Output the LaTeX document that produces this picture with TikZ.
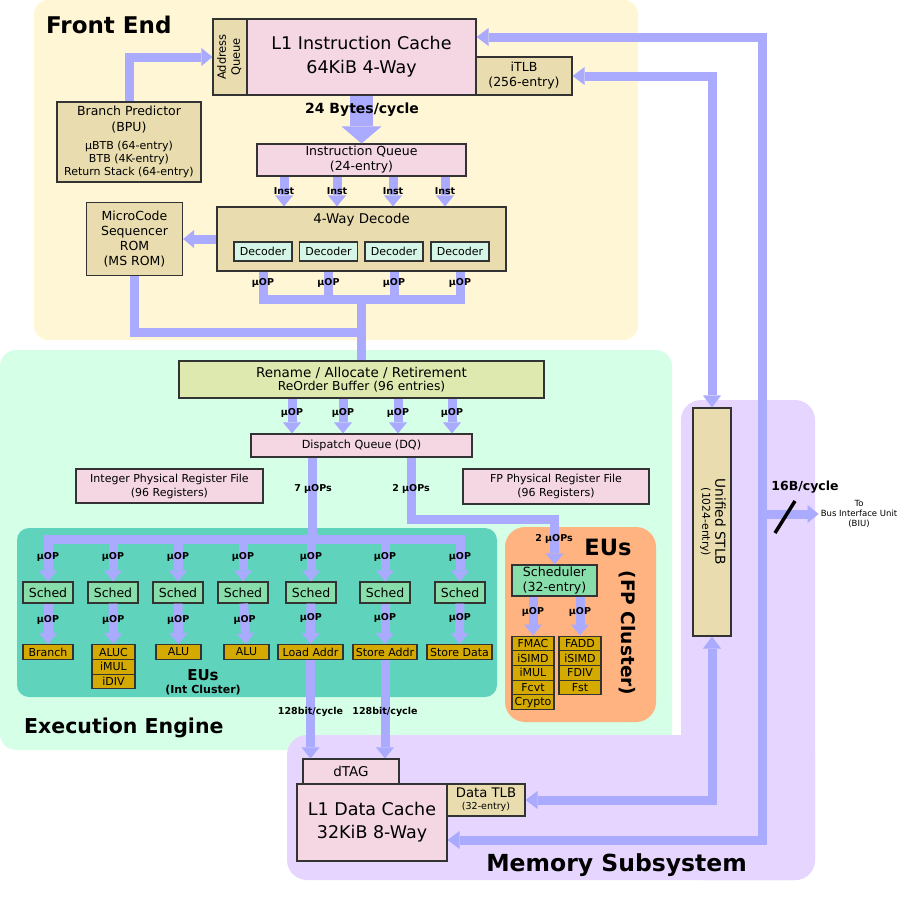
\documentclass[tikz,border=0pt]{standalone}
\usepackage{fontspec}
\setmainfont{DejaVu Sans}
\usepackage{graphicx}
\usetikzlibrary{arrows.meta}

\definecolor{frontbg}{HTML}{FFF6D5}
\definecolor{execbg}{HTML}{D5FFE6}
\definecolor{membg}{HTML}{E5D5FF}
\definecolor{tanbg}{HTML}{E9DDAF}
\definecolor{pinkbg}{HTML}{F4D7E3}
\definecolor{robbg}{HTML}{DDE9AF}
\definecolor{intbg}{HTML}{5FD3BC}
\definecolor{schedbg}{HTML}{87DEAA}
\definecolor{eubg}{HTML}{D4AA00}
\definecolor{fpbg}{HTML}{FFB380}
\definecolor{decbg}{HTML}{D5F6E6}
\definecolor{flow}{HTML}{AAAAFF}

\newcommand{\fsz}[2]{\fontsize{#1pt}{#2pt}\selectfont}

\tikzset{
  box/.style={draw=black!80, line width=1.1pt, inner sep=0pt, align=center, font=\fsz{12.5}{15}},
  tanbox/.style={box, fill=tanbg},
  pinkbox/.style={box, fill=pinkbg},
  decoder/.style={box, fill=decbg, minimum width=58pt, minimum height=19pt, font=\fsz{11}{13}},
  sched/.style={box, fill=schedbg, minimum width=50pt, minimum height=21pt},
  eu/.style={box, fill=eubg, minimum height=14.7pt, font=\fsz{11}{13}},
  bus/.style={color=flow, line width=9pt},
  busarrow/.style={bus, -{Triangle[width=18pt, length=11pt, line width=0pt]}},
  busboth/.style={bus, {Triangle[width=18pt, length=12pt, line width=0pt]}-{Triangle[width=18pt, length=12pt, line width=0pt]}},
  lbl/.style={text=black, inner sep=0pt, font=\bfseries\fsz{9.5}{11}},
  regiontitle/.style={inner sep=0pt, font=\bfseries\fsz{23}{27}},
}

\begin{document}
\begin{tikzpicture}[x=1pt, y=-1pt]
  \useasboundingbox (0,0) rectangle (900,900);

  % regions
  \fill[frontbg, rounded corners=14pt] (34,0) rectangle (638,340);
  \fill[execbg, rounded corners=16pt] (0,350) rectangle (672,750);
  \fill[membg, rounded corners=20pt] (681,400) rectangle (815,880);
  \fill[membg, rounded corners=20pt] (287,735) rectangle (815,880);
  \fill[intbg, rounded corners=12pt] (17,528) rectangle (497,697);
  \fill[fpbg, rounded corners=20pt] (505,527) rectangle (656,722);

  % front end
  \node[regiontitle, anchor=base west] (fetitle) at (46,33) {Front End};
  \node[tanbox, minimum width=34pt, minimum height=76pt, font=\fsz{11.5}{14}] (aq) at (230,57)
    {\rotatebox{90}{\begin{tabular}{@{}c@{}}Address\\Queue\end{tabular}}};
  \node[pinkbox, minimum width=229pt, minimum height=76pt, font=\fsz{17.5}{24}] (l1i) at (361.5,57)
    {L1 Instruction Cache\\64KiB 4-Way};
  \node[tanbox, minimum width=96pt, minimum height=38pt] (itlb) at (524,76) {iTLB\\(256-entry)};
  \node[tanbox, minimum width=144pt, minimum height=80pt, font=\fsz{11}{13}] (bpu) at (129,142)
    {{\fsz{12.5}{13}Branch Predictor}\\[3pt]{\fsz{12.5}{13}(BPU)}\\[5pt]μBTB (64-entry)\\BTB (4K-entry)\\Return Stack (64-entry)};
  \node[pinkbox, minimum width=209pt, minimum height=32pt] (iq) at (361.5,160) {Instruction Queue\\(24-entry)};
  \node[tanbox, minimum width=289pt, minimum height=64pt,
        label={[inner sep=0pt, font=\fsz{13.4}{15}, anchor=north, yshift=-7pt]north:4-Way Decode}] (dec) at (361.5,239) {};
  \node[decoder] (d1) at (263,251.5) {Decoder};
  \node[decoder] (d2) at (328.5,251.5) {Decoder};
  \node[decoder] (d3) at (394,251.5) {Decoder};
  \node[decoder] (d4) at (460,251.5) {Decoder};
  \node[tanbox, minimum width=96pt, minimum height=73pt] (msrom) at (134.5,239) {MicroCode\\Sequencer\\ROM\\(MS ROM)};

  % execution engine
  \node[regiontitle, font=\bfseries\fsz{20.5}{24}, anchor=base west] (eetitle) at (24,733) {Execution Engine};
  \node[box, fill=robbg, minimum width=365pt, minimum height=37pt, font=\fsz{12.3}{13}] (rob) at (361.5,379.5)
    {{\fsz{13.5}{13}Rename / Allocate / Retirement}\\ReOrder Buffer (96 entries)};
  \node[pinkbox, minimum width=221pt, minimum height=23pt, font=\fsz{11.2}{13}] (dq) at (361.5,445.5) {Dispatch Queue (DQ)};
  \node[pinkbox, minimum width=187pt, minimum height=34pt, font=\fsz{11}{14}] (iprf) at (169.5,486) {Integer Physical Register File\\(96 Registers)};
  \node[pinkbox, minimum width=186pt, minimum height=35pt, font=\fsz{11}{14}] (fprf) at (556,486.5) {FP Physical Register File\\(96 Registers)};

  \node[sched] (s1) at (48,592.5) {Sched};
  \node[sched] (s2) at (113,592.5) {Sched};
  \node[sched] (s3) at (178,592.5) {Sched};
  \node[sched] (s4) at (243,592.5) {Sched};
  \node[sched] (s5) at (311,592.5) {Sched};
  \node[sched] (s6) at (385,592.5) {Sched};
  \node[sched] (s7) at (460,592.5) {Sched};

  \node[eu, minimum width=50pt] (branch) at (48,652) {Branch};
  \node[eu, minimum width=43pt] (aluc) at (113.5,652) {ALUC};
  \node[eu, minimum width=43pt] (imul) at (113.5,666.7) {iMUL};
  \node[eu, minimum width=43pt] (idiv) at (113.5,681.4) {iDIV};
  \node[eu, minimum width=45pt] (alu1) at (178.5,652) {ALU};
  \node[eu, minimum width=45pt] (alu2) at (246.5,652) {ALU};
  \node[eu, minimum width=65pt] (load) at (310.5,652) {Load Addr};
  \node[eu, minimum width=64pt] (staddr) at (385,652) {Store Addr};
  \node[eu, minimum width=65pt] (stdata) at (459.5,652) {Store Data};
  \node[font=\bfseries\fsz{15}{17}, inner sep=0pt] (euint) at (203,675) {EUs};
  \node[font=\bfseries\fsz{11}{13}, inner sep=0pt] (euintsub) at (203,690) {(Int Cluster)};

  \node[box, fill=schedbg, minimum width=85pt, minimum height=31pt, font=\fsz{12.6}{14.5}] (fpsched) at (554.5,580.5) {Scheduler\\(32-entry)};
  \node[eu, minimum width=42pt] (fmac) at (533,643.4) {FMAC};
  \node[eu, minimum width=42pt] (isimda) at (533,658.1) {iSIMD};
  \node[eu, minimum width=42pt] (fimul) at (533,672.8) {iMUL};
  \node[eu, minimum width=42pt] (fcvt) at (533,687.5) {Fcvt};
  \node[eu, minimum width=42pt] (crypto) at (533,702.2) {Crypto};
  \node[eu, minimum width=42pt] (fadd) at (580,643.4) {FADD};
  \node[eu, minimum width=42pt] (isimdb) at (580,658.1) {iSIMD};
  \node[eu, minimum width=42pt] (fdiv) at (580,672.8) {FDIV};
  \node[eu, minimum width=42pt] (fst) at (580,687.5) {Fst};
  \node[font=\bfseries\fsz{22.5}{25}, inner sep=0pt] (eufp) at (608,547) {EUs};
  \node[font=\bfseries\fsz{18.6}{21}, inner sep=0pt, rotate=-90] (eufpsub) at (627,633) {(FP Cluster)};

  % memory subsystem
  \node[regiontitle, font=\bfseries\fsz{23.5}{27}, anchor=base east] (mstitle) at (747,871) {Memory Subsystem};
  \node[tanbox, minimum width=38pt, minimum height=228pt, font=\fsz{12}{13}] (stlb) at (712,522)
    {\rotatebox{-90}{\begin{tabular}{@{}c@{}}{\fsz{13.7}{13}Unified STLB}\\{\fsz{10.8}{13}(1024-entry)}\end{tabular}}};
  \node[pinkbox, minimum width=96pt, minimum height=25pt, font=\fsz{13.5}{15}] (dtag) at (351,771.5) {dTAG};
  \node[pinkbox, minimum width=150pt, minimum height=77pt, font=\fsz{17.5}{23}] (l1d) at (372,822.5) {L1 Data Cache\\32KiB 8-Way};
  \node[tanbox, minimum width=78pt, minimum height=32pt, font=\fsz{9.5}{12}] (dtlb) at (486,800) {{\fsz{13.2}{12}Data TLB}\\(32-entry)};
  \node[inner sep=2pt, align=center, font=\fsz{8.5}{10}] (biu) at (859,514) {To\\Bus Interface Unit\\(BIU)};

  % front end buses
  \draw[busarrow] (bpu.north) |- (aq.west);
  \draw[flow, line width=23pt, -{Triangle[width=40pt, length=17pt, line width=0pt]}] (l1i.south) -- (iq.north);
  \path[busarrow]
    (iq.south -| 284,0) edge node[lbl]{Inst} (dec.north -| 284,0)
    (iq.south -| 337,0) edge node[lbl]{Inst} (dec.north -| 337,0)
    (iq.south -| 393,0) edge node[lbl]{Inst} (dec.north -| 393,0)
    (iq.south -| 445,0) edge node[lbl]{Inst} (dec.north -| 445,0);
  \draw[busarrow] (dec.west) -- (msrom.east);

  \coordinate (decbar) at (361.5,299);
  \coordinate (msbar) at (361.5,332);
  \draw[bus, line cap=rect] (d1 |- decbar) -- (d4 |- decbar);
  \draw[bus] (decbar) -- (rob.north);
  \draw[bus] (msrom.south) |- (msbar);
  \path[bus]
    (dec.south -| d1) edge node[lbl, pos=.42]{μOP} (d1 |- decbar)
    (dec.south -| d2) edge node[lbl, pos=.42]{μOP} (d2 |- decbar)
    (dec.south -| d3) edge node[lbl, pos=.42]{μOP} (d3 |- decbar)
    (dec.south -| d4) edge node[lbl, pos=.42]{μOP} (d4 |- decbar);

  % execution engine buses
  \path[busarrow]
    (rob.south -| 292,0) edge node[lbl, pos=.42]{μOP} (dq.north -| 292,0)
    (rob.south -| 343,0) edge node[lbl, pos=.42]{μOP} (dq.north -| 343,0)
    (rob.south -| 398,0) edge node[lbl, pos=.42]{μOP} (dq.north -| 398,0)
    (rob.south -| 452,0) edge node[lbl, pos=.42]{μOP} (dq.north -| 452,0);

  \coordinate (intbar) at (312,539);
  \coordinate (fpturn) at (554.5,519);
  \draw[bus] (dq.south -| intbar) -- (intbar);
  \draw[bus, line cap=rect] (s1 |- intbar) -- (s7 |- intbar);
  \draw[busarrow] (dq.south -| 411,0) |- (fpturn) -- (fpsched.north);
  \path[busarrow]
    (s1 |- intbar) edge node[lbl, pos=.42]{μOP} (s1)
    (s2 |- intbar) edge node[lbl, pos=.42]{μOP} (s2)
    (s3 |- intbar) edge node[lbl, pos=.42]{μOP} (s3)
    (s4 |- intbar) edge node[lbl, pos=.42]{μOP} (s4)
    (s5 |- intbar) edge node[lbl, pos=.42]{μOP} (s5)
    (s6 |- intbar) edge node[lbl, pos=.42]{μOP} (s6)
    (s7 |- intbar) edge node[lbl, pos=.42]{μOP} (s7);
  \path[busarrow]
    (s1) edge node[lbl, pos=.4]{μOP} (branch)
    (s2) edge node[lbl, pos=.4]{μOP} (aluc)
    (s3) edge node[lbl, pos=.4]{μOP} (alu1)
    (s4) edge node[lbl, pos=.4]{μOP} (alu2)
    (s5) edge node[lbl, pos=.35]{μOP} (load)
    (s6) edge node[lbl, pos=.35]{μOP} (staddr)
    (s7) edge node[lbl, pos=.35]{μOP} (stdata);
  \path[busarrow]
    (fpsched.south -| fmac) edge node[lbl, pos=.4]{μOP} (fmac)
    (fpsched.south -| fadd) edge node[lbl, pos=.4]{μOP} (fadd);
  \node[lbl] (intrate) at (313,489) {7 μOPs};
  \node[lbl] (fprate) at (411,489) {2 μOPs};
  \node[lbl] (fpin) at (554,539) {2 μOPs};

  % memory buses
  \path[busarrow]
    (load) edge node[lbl, pos=.53]{128bit/cycle} (dtag.north -| load)
    (staddr) edge node[lbl, pos=.53]{128bit/cycle} (dtag.north -| staddr);
  \coordinate (ringtop) at (762,37);
  \coordinate (ringbot) at (762,840);
  \draw[busboth] (l1i.east |- ringtop) -- (ringtop) -- (ringbot) -- (l1d.east |- ringbot);
  \draw[busboth] (itlb.east) -| (stlb.north);
  \draw[busboth] (dtlb.east) -| (stlb.south);
  \draw[busarrow] (ringtop |- biu) -- (biu.west);
  \draw[line width=3.5pt] (775,533) -- (795,501);
  \node[font=\bfseries\fsz{12.5}{14}, inner sep=0pt] (biurate) at (805,487) {16B/cycle};
  \node[font=\bfseries\fsz{14}{16}, inner sep=0pt] (fetchrate) at (362,110) {24 Bytes/cycle};
\end{tikzpicture}
\end{document}
